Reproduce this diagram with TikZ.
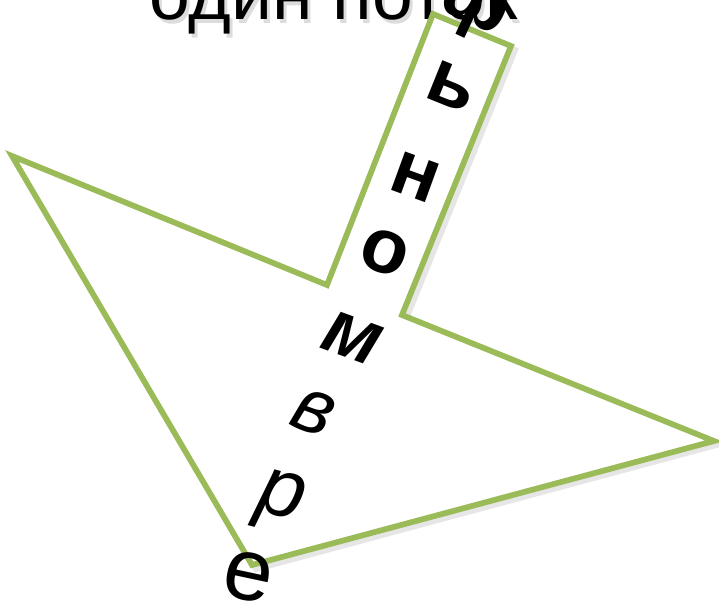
\documentclass[tikz,border=0pt]{standalone}
\usepackage{fontspec}
\setmainfont{Liberation Sans}
\usetikzlibrary{positioning}
\definecolor{leaf}{RGB}{155,187,89}
\definecolor{shade}{RGB}{205,205,205}

\begin{document}
\begin{tikzpicture}[
  x=0.75pt, y=-0.75pt,
  outline/.style={draw=leaf, line width=4.3pt, line join=miter, fill=white},
  shadowline/.style={draw=shade, line width=4.5pt, line join=miter, opacity=0.5},
  glyph/.style={font=\fontsize{58}{58}\selectfont\bfseries, inner sep=0pt},
  thin glyph/.style={font=\fontsize{58}{58}\selectfont, inner sep=0pt},
]
  \useasboundingbox (0,0) rectangle (719,607);
  \clip (0,0) rectangle (719,607);
  % title, cut off at the top
  \node[font=\fontsize{55}{55}\selectfont, anchor=base west, inner sep=0pt,
        text=shade!70] at (152,23) {один поток};
  \node[font=\fontsize{55}{55}\selectfont, anchor=base west, inner sep=0pt]
        (title) at (149,19) {один поток};
  % the arrow shape
  \draw[shadowline] (16,160) -- (330,289) -- (436,18) -- (515,50)
        -- (406,319) -- (716,445) -- (256,569) -- cycle;
  \draw[outline] (12,156) -- (327,285) -- (433,14) -- (511,46)
        -- (402,315) -- (714,441) -- (252,565) -- cycle;
  % letters along the stem
  \node[glyph, rotate=-25] (f) at (476,4) {ф};
  \node[glyph, rotate=-22] (soft) at (452,86) {ь};
  \node[glyph, rotate=-20] (en) at (415,177) {н};
  \node[glyph, rotate=-20] (o) at (385,252) {о};
  \node[glyph, rotate=-20, font=\fontsize{58}{58}\selectfont\bfseries\itshape] (em) at (352,338) {м};
  \node[thin glyph, rotate=-20, font=\fontsize{58}{58}\selectfont\itshape] (ve) at (313,412) {в};
  \node[thin glyph, rotate=-15, font=\fontsize{62}{62}\selectfont\itshape] (er) at (280,502) {р};
  \node[thin glyph, rotate=-12, font=\fontsize{66}{66}\selectfont] (ye) at (248,577) {е};
\end{tikzpicture}
\end{document}
